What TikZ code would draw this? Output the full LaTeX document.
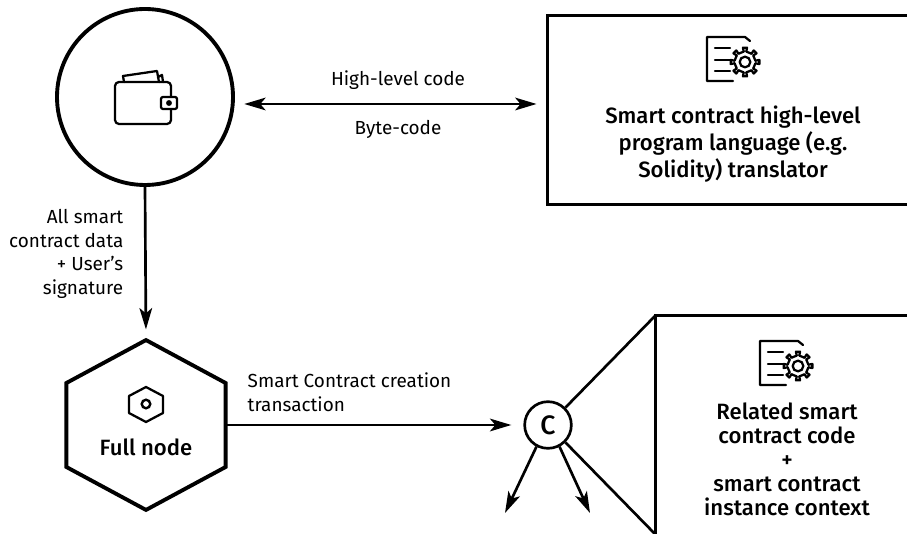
\documentclass[tikz,border=0pt]{standalone}
\usepackage{fontspec}
\setmainfont[BoldFont={Fira Sans Medium}]{Fira Sans}
\usetikzlibrary{arrows.meta}
\tikzset{
    px/.style={x=0.75pt,y=-0.75pt},
    flow/.style={line width=2pt,>={Stealth[length=16pt,width=9.5pt,inset=4pt]},->},
    thinflow/.style={line width=2pt},
    heavy/.style={draw,line width=2.9pt},
    panel/.style={draw,line width=2.2pt,rectangle,inner sep=0pt},
    iconline/.style={line width=1.7pt,line join=round,line cap=round},
    labeltext/.style={font=\fontsize{14.2pt}{17.8pt}\selectfont},
    titletext/.style={font=\fontsize{16.6pt}{18pt}\selectfont\bfseries,align=center},
    docgear/.pic={
        % page outline, then the three lines
        \draw[iconline] (-12,19) -- (-38,19) -- (-38,-25) -- (0,-25) -- (5,-21);
        \foreach \yy in {-14,-2,9}
            \draw[iconline] (-30,\yy) -- (-15,\yy);
        % the gear
        \foreach \a in {0,45,...,315}
            \draw[iconline,rotate=\a] (-7:10.5) -- (-8:14.5) -- (8:14.5) -- (7:10.5) -- (38:10.5);
        \draw[iconline] (0,0) circle (4pt);
    }
}
\begin{document}
\begin{tikzpicture}[px]
    \useasboundingbox (0,0) rectangle (907,534);

    % wallet circle
    \node [heavy,circle,minimum size=132pt,inner sep=0pt] (wallet) at (145,97) {};
    \draw[iconline,rounded corners=3pt] (115,90) -- (115,82) -- (171,82) -- (171,124) -- (115,124) -- cycle;
    \draw[iconline,fill=white,rounded corners=1.5pt] (161,97) rectangle (177,109);
    \fill (169,103) circle (2.2pt);
    \draw[iconline] (124,82) -- (123,76) -- (157,71) -- (159,82);
    \draw[iconline] (158,77) -- (162,75) -- (163,82);

    % translator box, runs off the page
    \node [panel,minimum width=274pt,minimum height=142pt] (translator) at (730,110) {};
    \pic at (745,62) {docgear};
    \node [titletext,font=\fontsize{16.6pt}{20pt}\selectfont\bfseries] (translatortext) at (733,144) {Smart contract high-level\\program language (e.g.\\Solidity) translator};

    % full node
    \node [minimum width=119pt,minimum height=127pt,inner sep=0pt] (fullnode) at (146,425) {};
    \draw [heavy,line join=miter] (fullnode.north) -- (fullnode.east |- 0,383) -- (fullnode.east |- 0,467)
        -- (fullnode.south) -- (fullnode.west |- 0,467) -- (fullnode.west |- 0,383) -- cycle;
    \node [font=\fontsize{16.6pt}{18pt}\selectfont\bfseries] (fullnodetext) at (146,447) {Full node};
    \draw[iconline] (146,387) -- (163,396) -- (163,413) -- (146,422) -- (129,413) -- (129,396) -- cycle;
    \draw[line width=1.8pt] (146,404) circle (3.2pt);

    % contract
    \node [draw,line width=2pt,circle,minimum size=35pt,inner sep=0pt,font=\fontsize{20pt}{20pt}\selectfont\bfseries] (contract) at (548,425) {C};
    \coordinate (upcorner) at (655,316);
    \coordinate (lowcorner) at (655,534);
    \coordinate (leftleaf) at (505,513);
    \coordinate (rightleaf) at (590,513);
    \node [panel,minimum width=205pt,minimum height=170pt] (context) at (792,429) {};
    \pic at (798,366) {docgear};
    \node [titletext] (contexttext) at (787,459) {Related smart\\contract code\\+\\smart contract\\instance context};

    % connectors
    \draw [flow,<->,shorten <=7pt,shorten >=7pt] ([yshift=-5.25pt]wallet.east) -- ([yshift=4.5pt]translator.west);
    \draw [flow,shorten >=8pt] (wallet.south) -- (fullnode.north);
    \draw [flow,shorten >=9pt] (fullnode.east) -- (contract.west);
    \draw [flow] (contract.-118) -- (leftleaf);
    \draw [flow] (contract.-62) -- (rightleaf);
    \draw [thinflow] (contract.45) -- (upcorner);
    \draw [thinflow] (contract.-45) -- (lowcorner);

    % labels
    \node [labeltext] (highlevel) at (398,80) {High-level code};
    \node [labeltext] (bytecode) at (398,129) {Byte-code};
    \node [labeltext,align=right,anchor=east] (signeddata) at (128,254) {All smart\\contract data\\+ User’s\\signature};
    \node [labeltext,align=left,anchor=west] (creation) at (243,392) {Smart Contract creation\\transaction};
\end{tikzpicture}
\end{document}
